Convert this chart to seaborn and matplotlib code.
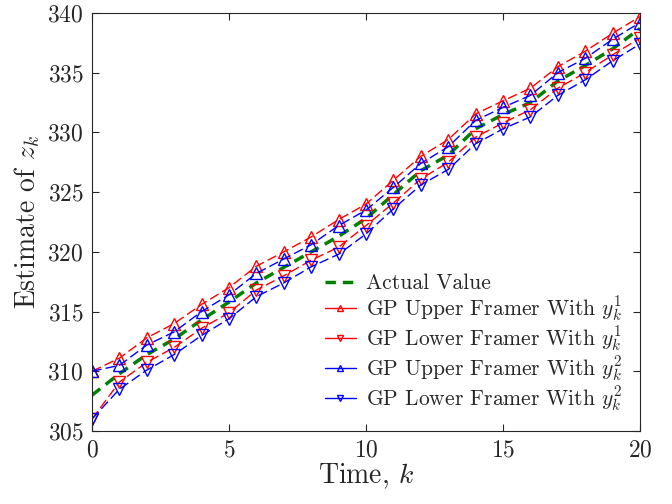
import numpy as np
import pandas as pd
import seaborn as sns
import matplotlib
matplotlib.use("Agg")
import matplotlib.pyplot as plt

# values
k = list(range(21))
actual = [308.0, 309.8, 311.4, 312.7, 314.3, 315.8, 317.4, 318.7, 320.0, 321.3, 322.8,
          324.8, 326.8, 328.1, 330.3, 331.5, 332.5, 334.3, 335.6, 337.0, 338.7]
upper_y1 = [310.0, 311.1, 312.8, 314.0, 315.6, 317.0, 318.8, 320.0, 321.25, 322.7, 324.0,
            326.0, 328.0, 329.4, 331.55, 332.65, 333.7, 335.5, 336.8, 338.3, 339.7]
lower_y1 = [306.0, 309.1, 310.75, 312.0, 313.6, 314.9, 316.8, 318.0, 319.3, 320.4, 322.2,
            324.1, 326.1, 327.5, 329.6, 330.8, 331.9, 333.7, 335.0, 336.5, 337.9]
upper_y2 = [310.0, 310.5, 312.2, 313.3, 315.0, 316.4, 318.2, 319.4, 320.6, 322.2, 323.5,
            325.4, 327.4, 328.8, 331.0, 332.1, 333.1, 335.0, 336.2, 337.8, 339.2]
lower_y2 = [306.0, 308.5, 310.1, 311.4, 313.0, 314.4, 316.25, 317.4, 318.75, 319.8, 321.5,
            323.6, 325.6, 326.9, 329.05, 330.3, 331.3, 333.1, 334.4, 336.0, 337.4]

sns.set_style("ticks")
plt.rcParams['font.family'] = ['cmr10', 'DejaVu Serif']
plt.rcParams['mathtext.fontset'] = 'cm'
plt.rcParams['axes.formatter.use_mathtext'] = True
plt.rcParams['axes.unicode_minus'] = False

fig = plt.figure(figsize=(6.72, 5.04), dpi=100)
ax = fig.add_axes([92/672, 1-431/504, (640-92)/672, (431-13)/504])

sns.lineplot(x=k, y=actual, ax=ax, color=(0, 0.5, 0), linestyle=(0, (3, 2)), linewidth=2.5,
             label='Actual Value')
mk = dict(markersize=8, markerfacecolor='none', markeredgewidth=1.0, linewidth=1.0)
sns.lineplot(x=k, y=upper_y1, ax=ax, color='red', linestyle=(0, (7, 3)), marker='^',
             markeredgecolor='red', label=r'GP Upper Framer With $y_k^1$', **mk)
sns.lineplot(x=k, y=lower_y1, ax=ax, color='red', linestyle=(0, (7, 3)), marker='v',
             markeredgecolor='red', label=r'GP Lower Framer With $y_k^1$', **mk)
sns.lineplot(x=k, y=upper_y2, ax=ax, color='blue', linestyle=(0, (7, 3)), marker='^',
             markeredgecolor='blue', label=r'GP Upper Framer With $y_k^2$', **mk)
sns.lineplot(x=k, y=lower_y2, ax=ax, color='blue', linestyle=(0, (7, 3)), marker='v',
             markeredgecolor='blue', label=r'GP Lower Framer With $y_k^2$', **mk)

ax.set_xlim(0, 20)
ax.set_ylim(305, 340)
ax.set_xticks([0, 5, 10, 15, 20])
ax.set_yticks([305, 310, 315, 320, 325, 330, 335, 340])
ax.tick_params(direction='in', top=True, right=True, labelsize=17, length=5,
               color='0.15', pad=6)
for s in ax.spines.values():
    s.set_color('0.15')
    s.set_linewidth(0.8)
ax.set_xlabel('Time, $k$', fontsize=20, labelpad=0)
ax.set_ylabel('Estimate of $z_k$', fontsize=20, labelpad=4)

leg = ax.legend(loc='lower right', frameon=False, fontsize=15.5, handlelength=1.4,
                handletextpad=0.5, labelspacing=0.0, borderaxespad=0.4)
for h in leg.legend_handles:
    h.set_markersize(5)
    if h.get_label() != 'Actual Value':
        h.set_linestyle('-')

fig.savefig('out.png', dpi=100)
